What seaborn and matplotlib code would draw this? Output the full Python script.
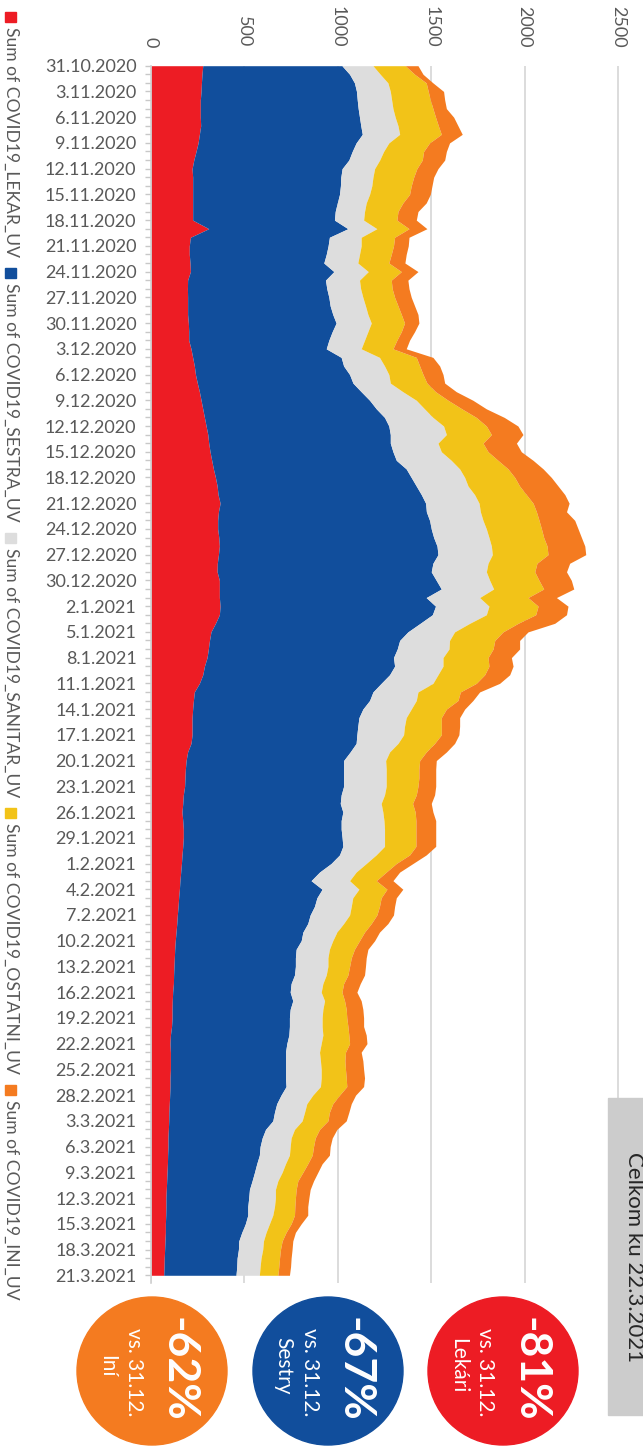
import numpy as np
import pandas as pd
import matplotlib
matplotlib.use('Agg')
import matplotlib.pyplot as plt
from matplotlib.patches import Ellipse, Rectangle
import seaborn as sns

sns.set_theme(style='white')
plt.rcParams['font.family'] = ['Lato', 'DejaVu Sans']

W, H = 643, 1449

# ---------------------------------------------------------------------------
# Datos (por día, 31.10.2020 - 21.3.2021)
# ---------------------------------------------------------------------------
fechas = pd.date_range('2020-10-31', '2021-03-21', freq='D')

lekar = [277, 273, 270, 268, 264, 264, 264, 266, 259, 252,
         241, 229, 220, 223, 223, 223, 223, 223, 223, 309,
         211, 205, 205, 209, 211, 196, 195, 196, 196, 196,
         200, 202, 202, 214, 223, 232, 238, 248, 259, 268,
         277, 286, 295, 304, 309, 316, 325, 334, 345, 354,
         359, 370, 361, 357, 357, 363, 366, 361, 355, 354,
         366, 366, 366, 370, 366, 345, 321, 313, 307, 300,
         286, 277, 259, 232, 227, 223, 220, 220, 220, 214,
         196, 188, 184, 182, 180, 173, 170, 166, 170, 173,
         173, 170, 166, 163, 159, 155, 152, 148, 145, 141,
         138, 134, 130, 127, 125, 123, 121, 120, 116, 114,
         113, 113, 110, 104, 102, 104, 104, 104, 102, 102,
         100, 98, 96, 95, 93, 91, 91, 89, 88, 86,
         84, 82, 80, 80, 79, 77, 77, 75, 73, 71,
         70, 68]

sestra = [745, 790, 819, 832, 840, 845, 852, 857, 872, 846,
          836, 830, 803, 793, 791, 786, 774, 763, 759, 745,
          744, 743, 733, 716, 768, 738, 746, 756, 763, 777,
          791, 768, 750, 724, 795, 799, 825, 833, 866, 902,
          929, 964, 978, 977, 972, 979, 988, 1032, 1048, 1066,
          1088, 1100, 1113, 1134, 1143, 1150, 1165, 1175, 1154, 1146,
          1161, 1188, 1107, 1153, 1140, 1096, 1054, 1018, 1011, 998,
          1018, 1000, 973, 956, 943, 911, 893, 887, 882, 884,
          870, 843, 847, 849, 851, 845, 843, 861, 848, 845,
          850, 857, 843, 801, 743, 702, 764, 740, 730, 711,
          701, 679, 674, 650, 648, 650, 647, 630, 629, 645,
          632, 628, 631, 634, 625, 616, 616, 616, 618, 621,
          596, 575, 565, 557, 520, 504, 493, 491, 478, 468,
          457, 445, 443, 438, 439, 428, 409, 395, 395, 390,
          389, 387]

sanitar = [166, 164, 179, 181, 184, 186, 191, 199, 200, 175,
           168, 165, 174, 172, 168, 161, 155, 157, 156, 155,
           170, 177, 178, 182, 184, 182, 181, 182, 189, 188,
           188, 191, 191, 187, 205, 219, 210, 200, 223, 250,
           258, 259, 293, 300, 255, 259, 294, 286, 286, 277,
           285, 286, 289, 286, 295, 296, 291, 291, 295, 295,
           286, 280, 286, 286, 289, 265, 250, 267, 277, 265,
           259, 259, 277, 241, 250, 259, 253, 250, 250, 224,
           211, 225, 228, 228, 228, 232, 219, 214, 229, 232,
           227, 223, 196, 188, 196, 206, 197, 192, 197, 211,
           192, 182, 169, 178, 174, 174, 170, 170, 166, 170,
           175, 175, 175, 182, 184, 182, 187, 191, 191, 184,
           170, 161, 161, 157, 155, 155, 161, 161, 154, 148,
           138, 139, 143, 143, 134, 129, 130, 132, 130, 128,
           125, 125]

ostatni = [173, 184, 205, 203, 207, 214, 216, 216, 223, 218,
           214, 228, 226, 218, 211, 214, 196, 179, 178, 172,
           179, 173, 170, 166, 177, 170, 169, 170, 174, 179,
           178, 179, 173, 170, 197, 188, 183, 196, 175, 170,
           200, 232, 229, 241, 241, 250, 250, 259, 268, 276,
           277, 289, 300, 300, 295, 293, 298, 298, 262, 259,
           264, 268, 259, 263, 264, 259, 259, 242, 236, 241,
           246, 250, 232, 227, 223, 188, 188, 197, 202, 196,
           196, 182, 175, 175, 170, 170, 168, 173, 171, 168,
           168, 168, 179, 161, 161, 143, 150, 152, 151, 146,
           148, 148, 143, 134, 125, 116, 116, 111, 111, 107,
           125, 132, 138, 139, 152, 139, 131, 130, 134, 141,
           143, 139, 133, 138, 134, 129, 125, 122, 119, 111,
           107, 111, 107, 109, 116, 116, 107, 100, 95, 99,
           100, 99]

ini = [68, 45, 36, 82, 77, 72, 97, 105, 112, 107,
       122, 120, 113, 107, 111, 111, 125, 107, 104, 96,
       77, 79, 80, 86, 89, 89, 90, 89, 89, 89,
       77, 71, 68, 71, 89, 107, 107, 95, 111, 133,
       131, 150, 169, 169, 179, 178, 188, 188, 196, 206,
       206, 193, 161, 191, 196, 202, 202, 202, 175, 170,
       173, 161, 152, 160, 165, 196, 134, 133, 142, 125,
       129, 134, 125, 103, 80, 98, 98, 98, 94, 107,
       108, 89, 90, 90, 95, 98, 100, 95, 106, 106,
       106, 106, 89, 89, 72, 89, 85, 81, 81, 89,
       89, 80, 81, 72, 80, 85, 89, 89, 80, 89,
       89, 90, 84, 93, 93, 84, 96, 97, 98, 90,
       86, 99, 104, 98, 93, 91, 89, 92, 77, 80,
       84, 75, 72, 69, 71, 54, 50, 57, 62, 62,
       63, 62]

series_names = ['Sum of COVID19_LEKAR_UV', 'Sum of COVID19_SESTRA_UV',
                'Sum of COVID19_SANITAR_UV', 'Sum of COVID19_OSTATNI_UV',
                'Sum of COVID19_INI_UV']
colores = ['#ED1C24', '#114E9C', '#DDDDDD', '#F2C318', '#F47B20']

badge_pct = ['-81%', '-67%', '-62%']
badge_names = ['Lekári', 'Sestry', 'Iní']
badge_ref = 'vs. 31.12.'
badge_colors = ['#ED1C24', '#114E9C', '#F47B20']
nota = 'Celkom ku 22.3.2021'

df = pd.DataFrame(dict(zip(series_names, [lekar, sestra, sanitar, ostatni, ini])),
                  index=fechas)
cum = df.cumsum(axis=1)
dias = np.arange(len(df))


def fx(x):
    return x / W


def fy(y):
    return 1 - y / H


# ---------------------------------------------------------------------------
# Figura
# ---------------------------------------------------------------------------
fig = plt.figure(figsize=(W / 100, H / 100), dpi=100)
fig.patch.set_facecolor('white')
ax = fig.add_axes([fx(151), fy(1283), fx(619) - fx(151), fy(65.7) - fy(1283)])

prev = np.zeros(len(df))
for name, color in zip(series_names, colores):
    ax.fill_betweenx(dias, prev, cum[name].values, color=color, linewidth=0)
    prev = cum[name].values

ax.set_xlim(0, 2505)
ax.set_ylim(141.9, 0)
ax.set_axisbelow(True)
ax.xaxis.tick_top()
ax.set_xticks(range(0, 2501, 500))
ax.tick_params(axis='x', length=0, pad=13, labelsize=13, labelcolor='#595959',
               labelrotation=-90)
ax.grid(axis='x', color='#d9d9d9', linewidth=1.3)
ax.grid(axis='y', visible=False)

etiquetas = [f'{d.day}.{d.month}.{d.year}' for d in fechas[::3]]
ax.set_yticks(dias[::3])
ax.set_yticklabels(etiquetas)
ax.set_yticks(dias, minor=True)
ax.tick_params(axis='y', which='both', left=True, length=4.5, width=1,
               color='#c8c8c8', direction='out')
ax.tick_params(axis='y', which='major', pad=6, labelsize=13, labelcolor='#595959')

for s in ['top', 'right', 'bottom']:
    ax.spines[s].set_visible(False)
ax.spines['left'].set_color('#d0d0d0')
ax.spines['left'].set_linewidth(1.2)

# ---------------------------------------------------------------------------
# Leyenda vertical (izquierda)
# ---------------------------------------------------------------------------
fig.canvas.draw()
renderer = fig.canvas.get_renderer()
y = 12
for name, color in zip(series_names, colores):
    fig.add_artist(Rectangle((fx(5), fy(y + 10)), 11 / W, 10 / H,
                             transform=fig.transFigure, color=color))
    t = fig.text(fx(11), fy(y + 15), name, rotation=-90, ha='center', va='top',
                 fontsize=12.6, color='#595959')
    bb = t.get_window_extent(renderer)
    y = y + 15 + bb.height + 11

# ---------------------------------------------------------------------------
# Círculos con variación
# ---------------------------------------------------------------------------
centros = [503, 328, 152]
for cx, pct, nom, col in zip(centros, badge_pct, badge_names, badge_colors):
    fig.add_artist(Ellipse((fx(cx), fy(1371)), 150 / W, 148 / H,
                           transform=fig.transFigure, color=col))
    fig.text(fx(cx + 27), fy(1369), pct, rotation=-90, ha='center', va='center',
             fontsize=32, fontweight='bold', color='white')
    fig.text(fx(cx - 18), fy(1372), badge_ref, rotation=-90, ha='center',
             va='center', fontsize=15, color='white')
    fig.text(fx(cx - 45), fy(1366), nom, rotation=-90, ha='center', va='center',
             fontsize=15, color='white')

# Caja gris con la fecha (cortada en el borde derecho, como en el original)
fig.add_artist(Rectangle((fx(608), fy(1415)), 60 / W, (1415 - 1098) / H,
                         transform=fig.transFigure, color='#cccccc'))
fig.text(fx(634), fy(1152), nota, rotation=-90, ha='center', va='top',
         fontsize=16, color='#262626')

fig.savefig('out.png', dpi=100, facecolor='white')
